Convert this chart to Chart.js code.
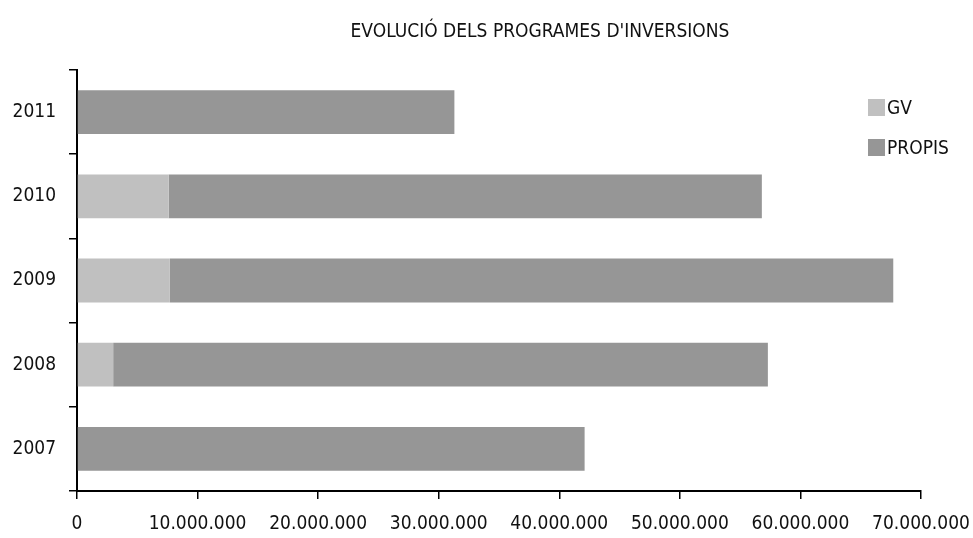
<!DOCTYPE html>
<html>
<head>
<meta charset="utf-8">
<script src="https://cdn.jsdelivr.net/npm/chart.js@4/dist/chart.umd.min.js"></script>
<style>
  body { margin: 0; background: #fff; }
  #wrap { position: relative; width: 973px; height: 538px; font-family: "DejaVu Sans Condensed", sans-serif; color: #111; }
  #title { position: absolute; left: 340px; width: 400px; top: 19px; text-align: center; font-size: 19px; }
  #legend { position: absolute; left: 868px; top: 96px; font-size: 19px; }
  #legend div { height: 40px; display: flex; align-items: flex-start; }
  #legend span.box { display: inline-block; width: 17px; height: 17px; margin-right: 2px; margin-top: 3px; }
</style>
</head>
<body>
<div id="wrap">
  <canvas id="grafic" width="973" height="538"></canvas>
  <div id="title">EVOLUCIÓ DELS PROGRAMES D'INVERSIONS</div>
  <div id="legend"></div>
</div>
<script>
/* DADES */
var anys = ["2007", "2008", "2009", "2010", "2011"];
var gv = [0, 3000000, 7700000, 7600000, 0];
var propis = [42100000, 54300000, 60000000, 49200000, 31300000];
var tickMax = 70000000;
var tickPas = 10000000;

var colorGV = "#c0c0c0";
var colorPropis = "#969696";

function formatPunts(v) {
    return String(v).replace(/\B(?=(\d{3})+(?!\d))/g, ".");
}

/* LLEGENDA */
var llegenda = document.getElementById("legend");
[["GV", colorGV], ["PROPIS", colorPropis]].forEach(item => {
    var d = document.createElement("div");
    d.innerHTML = '<span class="box" style="background:' + item[1] + '"></span>' + item[0];
    llegenda.appendChild(d);
});

/* GRÀFIC */
var ctx = document.getElementById("grafic");
var fontEix = { family: "'DejaVu Sans Condensed', sans-serif", size: 19 };

new Chart(ctx, {
    type: "bar",
    data: {
        labels: anys,
        datasets: [
            { label: "GV", data: gv, backgroundColor: colorGV, borderWidth: 0 },
            { label: "PROPIS", data: propis, backgroundColor: colorPropis, borderWidth: 0 }
        ]
    },
    options: {
        indexAxis: "y",
        responsive: false,
        animation: false,
        layout: { padding: { top: 70, right: 52, left: 0, bottom: 0 } },
        plugins: {
            legend: { display: false },
            title: { display: false },
            tooltip: { enabled: false }
        },
        datasets: { bar: { categoryPercentage: 1, barPercentage: 0.52 } },
        scales: {
            x: {
                stacked: true,
                min: 0,
                max: tickMax,
                afterFit: s => { s.height = 47; s.paddingLeft = 0; s.paddingRight = 0; },
                ticks: {
                    stepSize: tickPas,
                    color: "#111",
                    font: fontEix,
                    padding: 14,
                    maxRotation: 0,
                    autoSkip: false,
                    callback: v => formatPunts(v)
                },
                grid: { drawOnChartArea: false, drawTicks: true, tickLength: 8, color: "#000", lineWidth: 1.5 },
                border: { color: "#000", width: 2 }
            },
            y: {
                stacked: true,
                reverse: true,
                afterFit: s => { s.width = 77; s.paddingTop = 0; s.paddingBottom = 0; },
                ticks: { color: "#111", font: fontEix, padding: 13 },
                grid: { offset: true, drawOnChartArea: false, drawTicks: true, tickLength: 8, color: "#000", lineWidth: 1.5 },
                border: { color: "#000", width: 2 }
            }
        }
    }
});
</script>
</body>
</html>
